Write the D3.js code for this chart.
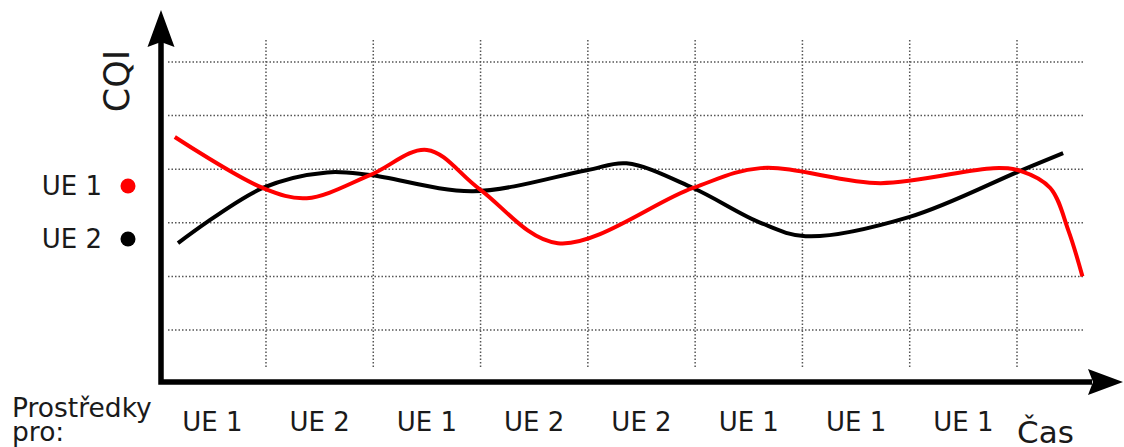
<!DOCTYPE html>
<html>
<head>
<meta charset="utf-8">
<script src="https://cdn.jsdelivr.net/npm/d3@7"></script>
<style>
  body { margin: 0; background: #fff; }
  svg { display: block; }
  text { font-family: "DejaVu Sans", Verdana, sans-serif; fill: #1a1a1a; }
</style>
</head>
<body>
<div id="chart"></div>
<script>
// Resource allocation per time slot
const slotLabels = ['UE 1', 'UE 2', 'UE 1', 'UE 2', 'UE 2', 'UE 1', 'UE 1', 'UE 1'];

// CQI curves, [time slot, CQI level]
const ue1Values = [
    [0.15, 4.60], [0.97, 3.65], [1.38, 3.46], [1.97, 3.89], [2.50, 4.36],
    [2.99, 3.63], [3.72, 2.62], [4.98, 3.65], [5.61, 4.02],
    [6.73, 3.74], [7.78, 4.02], [8.03, 3.97], [8.31, 3.65], [8.48, 2.85],
    [8.61, 2.00]
];
const ue2Values = [
    [0.18, 2.62], [0.97, 3.65], [1.57, 3.94], [1.97, 3.89], [2.93, 3.59],
    [3.99, 3.98], [4.36, 4.11], [4.98, 3.65], [5.61, 3.00], [6.03, 2.75],
    [7.00, 3.11], [8.03, 3.97], [8.43, 4.30]
];

const gridX = [1, 2, 3, 4, 5, 6, 7, 8];
const gridY = [1, 2, 3, 4, 5, 6];

const width = 1124, height = 447;

const svg = d3.select('#chart').append('svg')
    .attr('width', width)
    .attr('height', height);

const x = d3.scaleLinear().domain([0, 8]).range([158.7, 1017]);
const y = d3.scaleLinear().domain([0, 7]).range([383.6, 8.4]);

// dotted grid
const grid = svg.append('g')
    .attr('stroke', '#555')
    .attr('stroke-width', 1.5)
    .attr('stroke-dasharray', '1.5,2');

grid.selectAll('.hgrid').data(gridY).enter().append('line')
    .attr('class', 'hgrid')
    .attr('x1', 168).attr('x2', 1083)
    .attr('y1', d => y(d)).attr('y2', d => y(d));

grid.selectAll('.vgrid').data(gridX).enter().append('line')
    .attr('class', 'vgrid')
    .attr('x1', d => x(d)).attr('x2', d => x(d))
    .attr('y1', 40).attr('y2', 367);

// curves
const line = d3.line()
    .x(d => x(d[0]))
    .y(d => y(d[1]))
    .curve(d3.curveCatmullRom.alpha(0.5));

svg.append('path')
    .datum(ue2Values)
    .attr('d', line)
    .attr('fill', 'none')
    .attr('stroke', '#000')
    .attr('stroke-width', 4);

svg.append('path')
    .datum(ue1Values)
    .attr('d', line)
    .attr('fill', 'none')
    .attr('stroke', '#ff0000')
    .attr('stroke-width', 4);

// axes with arrows
const axisX = 161, axisY = 382;
svg.append('path')
    .attr('d', `M${axisX},42 L${axisX},${axisY} L1092,${axisY}`)
    .attr('fill', 'none')
    .attr('stroke', '#000')
    .attr('stroke-width', 5.5)
    .attr('stroke-linejoin', 'miter');

svg.append('path')
    .attr('d', `M${axisX},10 L${axisX + 13.5},47 L${axisX},42 L${axisX - 13.5},47 Z`)
    .attr('fill', '#000');

svg.append('path')
    .attr('d', `M1123,${axisY} L1088,${axisY - 13} L1093,${axisY} L1088,${axisY + 13} Z`)
    .attr('fill', '#000');

// axis titles
svg.append('text')
    .attr('transform', 'translate(129,81) rotate(-90)')
    .attr('text-anchor', 'middle')
    .style('font-size', '35px')
    .text('CQI');

svg.append('text')
    .attr('x', 1017).attr('y', 443)
    .style('font-size', '31px')
    .text('Čas');

// slot labels
svg.selectAll('.slot').data(slotLabels).enter().append('text')
    .attr('class', 'slot')
    .attr('x', (d, i) => x(i + 0.5))
    .attr('y', 431)
    .attr('text-anchor', 'middle')
    .style('font-size', '26px')
    .text(d => d);

const prost = svg.append('text')
    .attr('x', 12)
    .style('font-size', '26.5px');
prost.append('tspan').attr('x', 12).attr('y', 417).text('Prostředky');
prost.append('tspan').attr('x', 12).attr('y', 441).text('pro:');

// legend
const legend = [
    {name: 'UE 1', color: '#ff0000', ty: 195, cy: 186},
    {name: 'UE 2', color: '#000', ty: 248, cy: 239}
];
const lg = svg.selectAll('.legend').data(legend).enter().append('g')
    .attr('class', 'legend');
lg.append('text')
    .attr('x', 102).attr('y', d => d.ty)
    .attr('text-anchor', 'end')
    .style('font-size', '26px')
    .text(d => d.name);
lg.append('circle')
    .attr('cx', 128).attr('cy', d => d.cy)
    .attr('r', 7.5)
    .attr('fill', d => d.color);
</script>
</body>
</html>
